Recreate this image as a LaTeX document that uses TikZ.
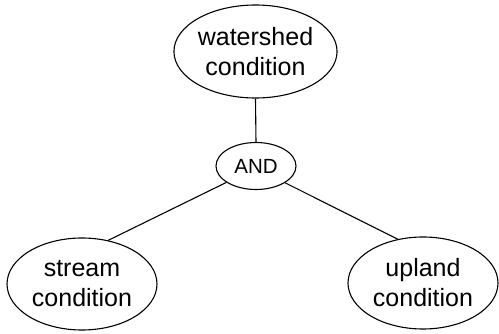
\documentclass[tikz,border=0pt]{standalone}
\usepackage{fontspec}
\setmainfont{Liberation Sans}
\usetikzlibrary{shapes.geometric}
\begin{document}
\begin{tikzpicture}[x=1pt,y=-1pt,
  cond/.style={ellipse,draw,line width=1.1pt,inner sep=0pt,minimum width=155pt,minimum height=93pt,align=center,font=\fontsize{25}{30}\selectfont},
  andnode/.style={ellipse,draw,line width=1.1pt,inner sep=0pt,minimum width=80pt,minimum height=47pt,font=\fontsize{20.5}{24}\selectfont},
  link/.style={line width=1.1pt}]
\useasboundingbox (0,0) rectangle (499,334);
\node[cond] (w) at (255.5,51.5) {watershed\\condition};
\node[andnode] (a) at (256,166) {AND};
\node[cond,minimum width=150pt,minimum height=92pt] (s) at (82,284) {stream\\condition};
\node[cond,minimum width=150pt,minimum height=92pt] (u) at (423,283) {upland\\condition};
\draw[link] (w.south) -- (a.north);
\draw[link] (a.209) -- (s.59);
\draw[link] (a.330) -- (u.120);
\end{tikzpicture}
\end{document}
